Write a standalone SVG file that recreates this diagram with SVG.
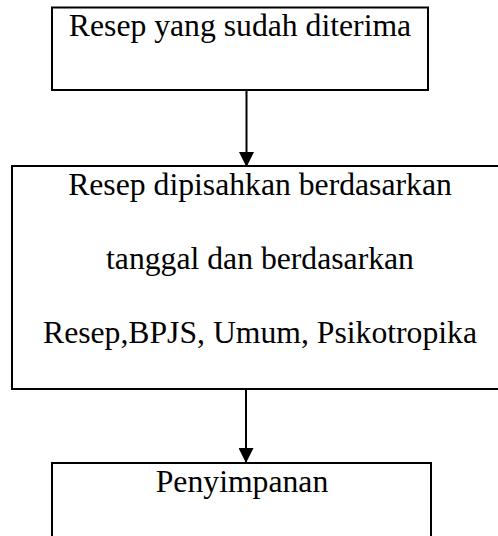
<svg xmlns="http://www.w3.org/2000/svg" width="498" height="536" viewBox="0 0 498 536">
<style>
.box{fill:#ffffff;stroke:#000000;stroke-width:2}
.lbl{font-family:"Liberation Serif","Times New Roman",serif;font-size:31.7px;fill:#000000;text-anchor:middle}
.conn{stroke:#000000;stroke-width:2;fill:none}
</style>
<defs>
<marker id="arr" markerUnits="userSpaceOnUse" markerWidth="18" markerHeight="15" refX="16" refY="8" orient="auto" viewBox="0 0 16 16">
<path d="M0,0 L16,8 L0,16 Z" fill="#000000"/>
</marker>
</defs>
<rect width="498" height="536" fill="#ffffff"/>
<g id="node-diterima">
<rect class="box" x="52" y="7.5" width="376" height="82.5"/>
<text class="lbl" x="240" y="36">Resep yang sudah diterima</text>
</g>
<g id="node-dipisahkan">
<rect class="box" x="12" y="166" width="496" height="223"/>
<text class="lbl" x="260" y="195">Resep dipisahkan berdasarkan</text>
<text class="lbl" x="260" y="269">tanggal dan berdasarkan</text>
<text class="lbl" x="260" y="343">Resep,BPJS, Umum, Psikotropika</text>
</g>
<g id="node-penyimpanan">
<rect class="box" x="52" y="463" width="379" height="90"/>
<text class="lbl" x="242" y="492">Penyimpanan</text>
</g>
<g id="connectors">
<line class="conn" x1="246.5" y1="90" x2="246.5" y2="167" marker-end="url(#arr)"/>
<line class="conn" x1="246" y1="389" x2="246" y2="463" marker-end="url(#arr)"/>
</g>
</svg>
